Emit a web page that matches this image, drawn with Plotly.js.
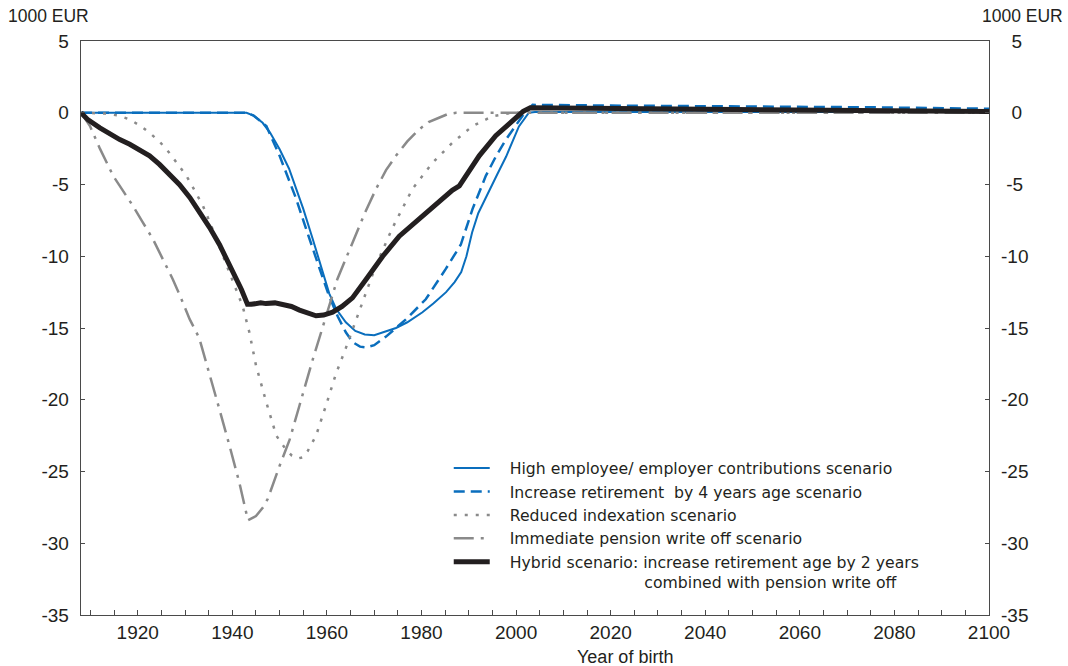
<!DOCTYPE html>
<html>
<head>
<meta charset="utf-8">
<script src="https://cdn.plot.ly/plotly-3.0.1.min.js"></script>
<style>html,body{margin:0;padding:0;background:#fff;}#chart{width:1068px;height:666px;}</style>
</head>
<body>
<div id="chart"></div>
<script>
// ---- Data (1000 EUR by year of birth) ----
const contribYears = [1908,1943,1944.5,1946.4,1948,1950,1952,1953.5,1955,1957,1959,1960.5,1962,1964,1966,1968,1970,1972,1974.6,1977,1980.2,1982.5,1985.2,1987,1988.4,1989.5,1990.7,1992,1993.7,1996,1997.9,1999.3,2000.6,2002.7,2004,2100];
const contribValues = [0,0,-0.2,-0.7,-1.4,-2.55,-3.9,-5.3,-6.7,-8.8,-10.9,-12.6,-13.7,-14.6,-15.2,-15.45,-15.5,-15.3,-15.0,-14.6,-13.9,-13.3,-12.5,-11.8,-11.1,-10.0,-8.35,-7.0,-5.8,-4.3,-3.05,-1.9,-0.95,0,0.05,0.05];

const retireYears = [1908,1943,1944.5,1947.2,1950,1951.8,1953.5,1955.3,1957,1958.8,1960.5,1962.3,1964,1965.5,1967,1968.3,1970,1972.5,1976.7,1980.9,1985.1,1988.3,1990.8,1993.6,1995.8,1997.8,2001.3,2003.5,2020,2052,2075,2100];
const retireValues = [0,0,-0.2,-0.93,-3.0,-4.5,-6.0,-7.8,-9.5,-11.2,-12.8,-14.2,-15.3,-16.0,-16.3,-16.35,-16.2,-15.6,-14.4,-13.0,-10.9,-9.2,-6.7,-4.4,-3.0,-1.9,-0.24,0.55,0.5,0.45,0.38,0.28];

const indexYears = [1908,1913,1916,1918.3,1920.5,1922.5,1924.6,1926.7,1928.5,1930.3,1932,1933.8,1935.2,1936.6,1938,1939.4,1940.8,1942.2,1943.6,1945,1947.2,1949.3,1951.4,1952.6,1953.8,1955,1955.9,1957.7,1959.8,1961.9,1964,1966.8,1970.4,1973.9,1978.1,1982.3,1986.5,1990.8,1995,1999.2,2100];
const indexValues = [0,-0.05,-0.2,-0.47,-0.9,-1.4,-2.0,-2.8,-3.6,-4.4,-5.4,-6.5,-7.6,-8.8,-9.9,-11.1,-12.3,-13.5,-15.3,-17.6,-20.2,-22.5,-23.5,-23.9,-24.1,-24.0,-23.6,-22.5,-20.4,-18.2,-16.4,-13.8,-10.6,-8.0,-5.3,-3.5,-2.1,-0.93,-0.24,0,0];

const writeoffYears = [1908,1909.9,1912,1914.8,1917,1919,1921,1923.2,1925.3,1927.4,1929,1931,1933,1934.5,1937.3,1939.4,1941.5,1943.3,1945,1946.5,1947.5,1950,1952.1,1954.2,1957,1959.8,1962.2,1965.1,1968,1970.4,1972.5,1974.6,1977,1979.5,1981.5,1983.7,1985.5,1987.3,2100];
const writeoffValues = [0,-0.93,-2.5,-4.4,-5.5,-6.5,-7.6,-8.8,-10.2,-11.6,-12.8,-14.4,-15.7,-17.4,-20.7,-23.2,-25.8,-28.4,-28.1,-27.5,-26.9,-24.6,-22.8,-20.4,-17.2,-14.2,-11.6,-9.3,-7.0,-5.3,-4.0,-3.0,-2.0,-1.16,-0.65,-0.35,-0.1,0,0];

const hybridYears = [1908,1909.5,1912,1914,1916.2,1918.3,1920.4,1922.5,1924.6,1926.7,1928.8,1931,1933.1,1935.2,1937.3,1939,1940.5,1941.9,1943.2,1944,1946,1947.1,1949,1950.7,1952.5,1954.2,1956,1957.7,1959.3,1961.2,1963.2,1965.4,1968.3,1971.8,1975.3,1979.5,1983.7,1986.5,1988,1989.4,1992.2,1995.7,1999.2,2001.5,2003,2010,2030,2060,2080,2100];
const hybridValues = [0,-0.5,-1.05,-1.45,-1.87,-2.2,-2.56,-3.0,-3.6,-4.25,-5.0,-5.9,-6.9,-8.0,-9.2,-10.3,-11.3,-12.3,-13.35,-13.35,-13.25,-13.3,-13.25,-13.35,-13.5,-13.75,-14.0,-14.15,-14.1,-13.9,-13.5,-12.9,-11.6,-10.0,-8.6,-7.4,-6.3,-5.4,-5.1,-4.4,-3.0,-1.6,-0.59,0.1,0.35,0.33,0.25,0.2,0.15,0.08];

const seriesNames = [
  "High employee/ employer contributions scenario",
  "Increase retirement  by 4 years age scenario",
  "Reduced indexation scenario",
  "Immediate pension write off scenario",
  "Hybrid scenario: increase retirement age by 2 years<br>combined with pension write off"
];
const yTickVals = [5,0,-5,-10,-15,-20,-25,-30,-35];
const yTickText = ["5","0","-5","-10","-15","-20","-25","-30","-35"];
const rightTickText = ["\u00a0\u00a05","\u00a0\u00a00","\u00a0-5","-10","-15","-20","-25","-30","-35"];
const unitLabel = "1000 EUR";
const xTitle = "Year of birth";

// legend label spacing (text gap after the line sample, indent of the wrapped line)
const NB = "\u00a0";
function legendLabel(name) {
  const parts = name.split("<br>");
  return parts.map((p, i) => NB.repeat(i === 0 ? 3 : 30) + p).join("<br>");
}

// ---- Traces ----
const FONT = "Liberation Sans, Arial, sans-serif";
const LFONT = "DejaVu Sans, Liberation Sans, sans-serif";
const BLUE = "#0a6ebd";
const GRAY = "#8a8a8a";
const traces = [
  {x: contribYears, y: contribValues, name: legendLabel(seriesNames[0]), mode: "lines",
   line: {color: BLUE, width: 2}},
  {x: retireYears, y: retireValues, name: legendLabel(seriesNames[1]), mode: "lines",
   line: {color: BLUE, width: 2.5, dash: "11px,6px"}},
  {x: indexYears, y: indexValues, name: legendLabel(seriesNames[2]), mode: "lines",
   line: {color: GRAY, width: 2.5, dash: "3px,8px"}},
  {x: writeoffYears, y: writeoffValues, name: legendLabel(seriesNames[3]), mode: "lines",
   line: {color: GRAY, width: 2.5, dash: "20px,7px,3px,7px"}},
  {x: hybridYears, y: hybridValues, name: legendLabel(seriesNames[4]), mode: "lines",
   line: {color: "#231f20", width: 5}},
  {x: [], y: [], yaxis: "y2", showlegend: false, hoverinfo: "skip"}
];

const axisColor = "#4a4a4a";
const layout = {
  width: 1068, height: 666,
  margin: {l: 81, r: 79, t: 41, b: 51, pad: 0},
  paper_bgcolor: "#fff", plot_bgcolor: "#fff",
  font: {family: FONT, color: "#231f20"},
  showlegend: true,
  legend: {
    x: 0.405, y: 0.285, xanchor: "left", yanchor: "top",
    bgcolor: "rgba(0,0,0,0)", borderwidth: 0,
    font: {family: LFONT, size: 15.7, color: "#231f20"},
    itemwidth: 36, valign: "top", traceorder: "normal"
  },
  xaxis: {
    range: [1908, 2100], tick0: 1920, dtick: 20,
    showgrid: false, zeroline: false,
    showline: true, linecolor: axisColor, linewidth: 1.3, mirror: true,
    ticks: "inside", ticklen: 5, tickcolor: axisColor, tickwidth: 1,
    minor: {dtick: 5, tick0: 1910, ticks: "inside", ticklen: 5, tickcolor: axisColor, tickwidth: 1, showgrid: false},
    tickfont: {family: FONT, size: 19, color: "#231f20"},
    ticklabelstandoff: 0
  },
  yaxis: {
    range: [-35, 5], tickvals: yTickVals, ticktext: yTickText,
    showgrid: false, zeroline: false,
    showline: true, linecolor: axisColor, linewidth: 1.3, mirror: "ticks",
    ticks: "inside", ticklen: 4, tickcolor: axisColor, tickwidth: 1,
    tickfont: {family: FONT, size: 19, color: "#231f20"},
    ticklabelstandoff: 7
  },
  yaxis2: {
    overlaying: "y", side: "right", anchor: "x",
    range: [-35, 5], tickvals: yTickVals, ticktext: rightTickText,
    showgrid: false, zeroline: false, showline: false, ticks: "",
    tickfont: {family: FONT, size: 19, color: "#231f20"},
    ticklabelstandoff: 11
  },
  annotations: [
    {text: unitLabel, xref: "paper", yref: "paper", x: -0.0355, y: 1.0, xanchor: "center", yanchor: "middle",
     yshift: 25, showarrow: false, font: {family: FONT, size: 17.5, color: "#231f20"}},
    {text: unitLabel, xref: "paper", yref: "paper", x: 1.0369, y: 1.0, xanchor: "center", yanchor: "middle",
     yshift: 25, showarrow: false, font: {family: FONT, size: 17.5, color: "#231f20"}},
    {text: xTitle, xref: "paper", yref: "paper", x: 0.599, y: 0, xanchor: "center", yanchor: "middle",
     yshift: -42, showarrow: false, font: {family: FONT, size: 18, color: "#231f20"}}
  ]
};

Plotly.newPlot("chart", traces, layout, {staticPlot: true, displayModeBar: false});
</script>
</body>
</html>
